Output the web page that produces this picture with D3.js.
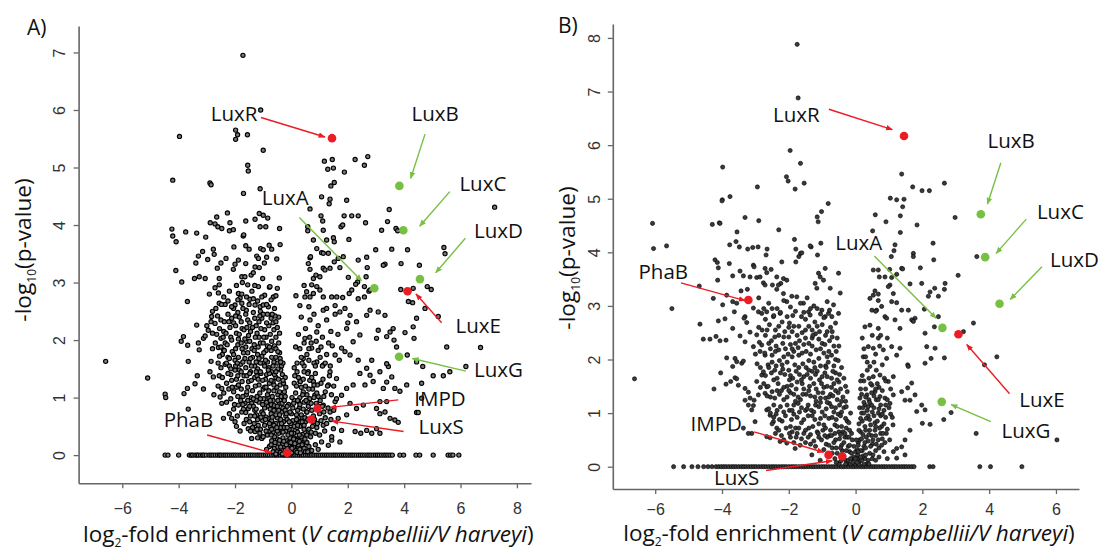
<!DOCTYPE html>
<html>
<head>
<meta charset="utf-8">
<script src="https://cdn.jsdelivr.net/npm/d3@7"></script>
<style>
  body { margin: 0; background: #fff; }
</style>
</head>
<body>
<script>
const width = 1103, height = 552;

// ---- panel A : log2 fold enrichment vs -log10 p ----
const pointsA = [
  [-1.72,6.95],[-1.09,6.0],[-3.97,5.54],[-1.98,5.65],[-1.91,5.57],[-1.56,5.57],[-1.98,5.49],[-1.0,5.30],[-1.55,5.04],[-1.53,4.94],
  [-4.21,4.78],[-2.89,4.73],[-2.85,4.70],[-1.70,4.55],[-1.11,4.63],
  [1.17,5.11],[1.45,5.14],[2.26,5.14],[2.71,5.19],[2.59,5.04],[1.29,4.97],[1.49,4.99],[1.88,4.92],[1.52,4.74],[1.40,4.68],
  [1.07,4.49],[1.37,4.45],[1.34,4.37],[1.96,4.43],[0.66,4.28],[3.47,4.27],[7.21,4.31],
  [-2.27,4.21],[-2.65,4.14],[-1.14,4.20],[-1.0,4.17],[-0.84,4.12],[-2.88,4.04],[-2.71,4.02],[-2.61,3.97],[-2.47,3.94],
  [-2.18,4.04],[-2.20,3.90],[-2.06,3.92],[-1.62,4.07],[-1.29,4.10],[-1.11,3.97],[-0.91,3.97],[-4.24,3.93],[-4.21,3.81],
  [-4.09,3.71],[-3.75,3.88],[-3.36,3.86],[-3.04,3.79],[-1.71,3.81],[-1.69,3.83],[-2.04,3.62],[-1.62,3.64],[-1.50,3.58],
  [-1.09,3.59],[-1.0,3.57],[-0.79,3.65],[-0.70,3.58],[-3.15,3.54],[-3.30,3.46],[-3.39,3.34],[-2.77,3.58],[-2.74,3.49],
  [-2.97,3.40],[-2.32,3.42],[-2.50,3.34],[-2.63,3.25],[-1.88,3.39],[-2.0,3.32],[-2.06,3.23],[-1.62,3.33],[-1.23,3.46],
  [-1.17,3.42],[-0.88,3.44],[-0.96,3.34],[-1.29,3.27],[-1.14,3.26],[-1.43,3.13],[-1.35,3.17],[-4.10,3.21],[-3.44,3.07],
  [-3.27,3.10],[-3.06,3.07],[-2.56,3.07],[-3.89,3.01],[-1.76,3.10],[-1.65,3.10],[-1.74,3.0],[-1.55,2.96],[-1.17,2.93],
  [-1.02,3.07],[-0.78,2.92],[-2.71,2.91],[-2.56,2.96],[-2.59,2.82],[-2.91,2.80],[-1.88,2.81],[-1.76,2.80],[-1.82,2.73],
  [-1.59,2.75],[-1.47,2.71],[-3.69,2.67],[-2.56,2.64],[-2.35,2.62],[-2.0,2.61],[-1.76,2.64],[-1.29,2.61],[-1.11,2.58],
  [-1.0,2.61],[-0.82,2.58],[-0.64,2.75],
  [-0.42,3.94],[1.05,4.16],[1.11,4.07],[1.13,3.91],[0.58,3.97],[1.87,4.16],[2.14,4.16],[2.37,4.16],[2.63,4.04],[1.76,3.97],
  [1.82,4.0],[3.41,4.06],[3.20,3.91],[3.71,3.94],[3.77,3.90],[-0.40,3.66],[-0.52,3.41],[-0.43,3.08],[1.49,3.78],[1.25,3.74],
  [1.52,3.71],[2.04,3.75],[0.58,3.90],[0.90,3.59],[1.07,3.52],[1.13,3.51],[1.31,3.51],[0.78,3.74],[0.66,3.43],[0.68,3.45],
  [2.99,3.57],[3.56,3.58],[4.12,3.57],[5.41,3.61],[5.45,3.50],[2.37,3.39],[2.67,3.44],[3.32,3.32],[3.26,3.30],[3.89,3.33],
  [4.54,3.30],[1.66,3.42],[1.84,3.45],[1.72,3.26],[1.52,3.36],[1.37,3.25],[0.60,3.33],[0.66,3.23],[0.78,3.07],[0.87,3.13],
  [1.01,3.10],[1.13,3.25],[1.19,3.22],[2.02,3.09],[2.35,3.01],[2.65,3.10],[2.69,3.26],[2.59,2.93],[2.75,2.85],[3.88,2.88],
  [4.32,2.90],[4.82,2.93],[4.96,2.88],[-0.76,2.93],[-0.55,2.77],[0.16,2.77],[0.54,2.84],[0.48,2.75],[0.66,2.75],[0.78,2.81],
  [0.90,2.93],[0.72,2.96],[1.01,2.87],[1.13,2.75],[1.43,2.75],[1.61,2.75],[1.82,2.74],[2.05,2.81],[2.14,2.87],[2.28,2.97],
  [2.37,2.72],[2.59,2.75],[2.79,2.87],[4.15,2.67],[4.30,2.65],
  [2.79,2.52],[3.08,2.49],[3.32,2.43],[3.61,2.20],[4.03,2.13],[4.32,2.23],[4.35,2.03],[4.44,2.38],[4.74,2.55],[5.21,2.41],
  [5.51,1.88],[6.71,1.87],[4.11,1.74],[4.44,1.62],[4.66,1.54],[5.03,1.38],[5.39,1.38],[5.62,1.45],[6.19,1.54],[4.09,1.22],
  [4.62,1.25],[4.62,0.99],[4.44,0.74],[4.50,0.74],[2.67,2.43],[3.08,2.17],[3.02,2.03],[3.38,2.06],[3.50,2.14],[3.64,2.0],
  [3.73,1.88],[3.44,1.54],[3.38,1.27],[3.56,1.36],[3.67,1.16],[3.85,1.11],[3.02,0.81],[3.14,0.72],[3.32,0.75],[3.50,0.64],
  [3.67,0.61],[3.79,0.57],[3.38,0.93],[3.14,0.93],[2.26,0.41],[2.46,0.38],[2.67,0.43],[2.85,0.38],[3.02,0.46],[3.14,0.38],
  [1.72,0.23],[1.43,0.26],[1.31,0.17],
  [1.13,2.52],[1.72,2.49],[2.08,2.43],[2.31,2.32],[1.96,2.20],[2.43,2.09],[2.19,1.97],[1.78,1.86],[1.55,1.74],[2.08,1.74],
  [2.37,1.65],[2.67,1.51],[2.85,1.65],[2.79,1.39],[2.43,1.42],[2.19,1.22],[1.96,1.16],[2.61,1.22],[2.90,1.28],[3.26,1.16],
  [3.14,1.45],[3.38,1.59],[1.13,1.57],[1.37,1.45],[1.60,1.33],[1.31,1.22],[1.78,1.04],[1.55,0.93],[2.08,0.90],[2.31,0.81],
  [2.55,0.87],[1.96,0.70],[1.66,0.64],[1.37,0.75],[1.13,0.87],[1.13,0.52],[1.49,0.46],[1.78,0.43],[1.43,0.32],[1.07,0.23],
  [0.66,2.35],[0.90,2.14],[0.48,2.03],[0.72,1.86],[0.42,1.68],[0.90,1.62],[0.60,1.45],[0.30,1.28],[0.78,1.28],[0.42,1.10],
  [0.83,1.04],[0.25,0.93],[0.54,0.75],[0.30,0.58],[0.60,0.41],[0.25,0.29],[0.42,0.14],[0.13,0.12],[-0.05,0.06],
  [-6.59,1.63],[-5.10,1.34],[-4.48,1.06],[-4.46,1.0],[-3.81,1.07],[-3.69,1.16],[-3.42,1.24],[-3.12,1.15],[-3.66,0.80],
  [-3.34,1.38],[-2.89,1.45],[-2.77,1.36],[-2.56,1.38],[-3.66,1.63],[-3.27,1.83],[-2.85,1.63],[-3.91,1.98],[-3.83,2.06],
  [-3.68,1.91],[-3.36,2.26],[-3.30,1.95],[-3.12,2.03],[-3.06,2.07],[-2.95,2.17],[-2.85,2.32],[-2.83,2.41],[-2.80,2.50],
  [-2.71,2.29],[-2.50,2.03],[-2.59,1.87],[-2.41,1.83],[-2.53,1.01],[-2.47,0.90],[-2.41,0.64],[-2.12,0.64],[-2.0,0.58],
  [-2.47,1.16],[-1.88,0.87],[-1.76,0.75],[-1.53,0.81],[-1.41,0.90],[-1.23,0.70],[-1.53,0.46],[-1.29,0.41],[-1.05,0.29],
  [-1.41,0.29],[-0.82,0.64],[-0.88,0.41],
  [-0.6,0.12],[-0.45,0.2],[-0.35,0.08],[-0.25,0.15],[-0.15,0.25],[-0.05,0.1],[0.05,0.2],[0.15,0.08],[0.25,0.18],[0.35,0.28],
  [0.45,0.12],[-0.5,0.28],[-0.3,0.3],[-0.1,0.18],[0.1,0.3],[0.2,0.05],[-0.2,0.05],[-0.4,0.05],[0.3,0.1],[-0.7,0.25],
  [0.55,0.22],[-0.05,0.3],[0.0,0.04],[-0.15,0.12],
  [-1.1,0.45],[-0.95,0.52],[-0.85,0.35],[-0.75,0.5],[-0.65,0.4],[-0.55,0.55],[-0.45,0.38],[-0.38,0.48],[-0.28,0.58],[-0.2,0.42],
  [-0.12,0.35],[0.02,0.45],[0.12,0.55],[0.22,0.4],[0.3,0.5],[0.4,0.36],[0.5,0.58],[0.62,0.45],[0.75,0.5],[0.85,0.38],
  [-0.7,0.6],[-0.4,0.6],[0.05,0.6],[0.35,0.32],[-1.0,0.32],[-0.6,0.32],
  [-1.7,0.8],[-1.55,0.95],[-1.45,0.68],[-1.35,0.85],[-1.2,0.62],[-1.15,0.92],[-1.05,0.75],[-0.98,0.98],[-0.9,0.66],[-0.82,0.85],
  [-0.72,0.72],[-0.65,0.95],[-0.58,0.8],[-0.5,0.65],[-0.42,0.9],[-0.35,0.75],[-0.28,0.98],[-0.2,0.68],[-0.1,0.88],[0.0,0.72],
  [0.1,0.95],[0.18,0.7],[0.28,0.82],[0.38,0.66],[0.45,0.92],[0.55,0.75],[0.65,0.98],[0.78,0.68],[0.88,0.9],[1.0,0.72],
  [1.1,0.85],[1.2,0.65],[-1.3,0.78],[-0.8,1.0],[-0.45,0.78],[0.3,1.0],[-1.6,0.62],[-0.15,0.62],
  [-2.3,1.25],[-2.15,1.4],[-2.05,1.1],[-1.95,1.32],[-1.85,1.48],[-1.78,1.15],[-1.68,1.38],[-1.6,1.05],[-1.52,1.28],[-1.45,1.45],
  [-1.38,1.12],[-1.3,1.35],[-1.22,1.02],[-1.15,1.22],[-1.08,1.42],[-1.0,1.15],[-0.92,1.32],[-0.85,1.05],[-0.78,1.25],[-0.7,1.45],
  [-0.62,1.12],[-0.55,1.35],[-0.48,1.05],[-0.4,1.22],[-0.32,1.4],[-0.25,1.1],[0.15,1.08],[0.25,1.35],[0.35,1.18],[0.45,1.45],
  [0.55,1.05],[0.65,1.3],[0.75,1.15],[0.85,1.42],[0.95,1.02],[1.05,1.25],[1.2,1.1],[1.35,1.38],[1.5,1.2],[-2.0,1.48],
  [-1.2,1.5],[-0.65,1.28],[0.2,1.45],[-1.9,1.02],[-2.6,1.2],[-2.75,1.05],
  [-2.8,1.85],[-2.6,1.6],[-2.45,1.75],[-2.35,1.95],[-2.2,1.55],[-2.1,1.8],[-2.0,1.65],[-1.9,1.92],[-1.8,1.58],[-1.7,1.78],
  [-1.6,1.98],[-1.5,1.62],[-1.4,1.85],[-1.3,1.55],[-1.2,1.75],[-1.1,1.95],[-1.0,1.6],[-0.9,1.82],[-0.8,1.52],[-0.7,1.7],
  [-0.6,1.9],[-0.5,1.6],[-0.42,1.78],[-0.35,1.55],[0.2,1.6],[0.3,1.85],[0.45,1.55],[0.55,1.75],[0.7,1.95],[0.8,1.6],
  [0.95,1.82],[1.1,1.55],[1.25,1.75],[1.45,1.9],[1.7,1.65],[1.9,1.8],[-1.65,1.68],[-1.05,1.72],[-2.25,1.7],[0.35,1.7],
  [-3.0,2.25],[-2.65,2.1],[-2.5,2.35],[-2.4,2.15],[-2.25,2.45],[-2.15,2.05],[-2.05,2.3],[-1.95,2.12],[-1.85,2.4],[-1.75,2.2],
  [-1.65,2.02],[-1.55,2.35],[-1.45,2.15],[-1.35,2.48],[-1.25,2.25],[-1.15,2.05],[-1.05,2.38],[-0.95,2.18],[-0.85,2.45],[-0.75,2.1],
  [-0.65,2.3],[-0.55,2.05],[-0.45,2.4],[0.25,2.1],[0.35,2.4],[0.5,2.2],[0.65,2.05],[0.8,2.45],[0.95,2.25],[1.1,2.05],
  [1.25,2.35],[1.4,2.15],[1.55,2.45],[1.65,2.1],[2.0,2.3],[-1.9,2.48],[-1.1,2.5],
  [-2.2,2.85],[-2.05,2.55],[-1.95,2.95],[-1.4,2.85],[-1.3,2.95],[-0.95,2.78],[-0.6,2.55],[-0.5,2.9],[0.3,2.6],[0.45,2.95],
  [1.25,2.55],[1.55,2.6],[1.9,2.55],[-2.4,2.75],[-1.6,2.52],[0.62,2.58],
  [-1.95,0.5],[-1.82,0.42],[-1.68,0.55],[-1.48,0.58],[-1.38,0.48],[-1.18,0.52],[-1.02,0.6],[-0.78,0.42],[-0.62,0.52],
  [-2.2,0.72],[-2.05,0.8],[-1.92,0.68],[-1.62,0.74],[-1.25,0.8],[-1.08,0.66],[-0.95,0.82],[-0.75,0.8],[-0.55,0.7],[-0.38,0.62],
  [-0.3,0.82],[-0.22,0.78],
  [-2.3,0.92],[-2.15,0.98],[-2.02,0.88],[-1.8,0.95],[-1.65,0.9],[-1.48,0.85],[-1.25,0.95],[-1.1,0.98],[-0.88,0.92],[-0.72,0.88],
  [-0.6,0.86],[-0.48,0.95],[-0.33,0.9],[-0.25,0.95],
  [-2.4,1.08],[-2.22,1.15],[-1.95,1.18],[-1.72,1.02],[-1.55,1.18],[-1.42,1.0],[-1.28,1.2],[-1.12,1.08],[-0.95,1.18],[-0.8,1.12],
  [-0.68,1.02],[-0.52,1.18],[-0.36,1.02],[-0.28,1.25],[-0.2,1.18],
  [-2.45,1.35],[-2.25,1.42],[-2.12,1.3],[-1.9,1.38],[-1.75,1.28],[-1.58,1.38],[-1.42,1.3],[-1.22,1.38],[-1.02,1.3],[-0.88,1.4],
  [-0.72,1.3],[-0.6,1.4],[-0.46,1.32],[-0.38,1.48],[-0.22,1.35],
  [-2.5,1.52],[-2.35,1.58],[-2.15,1.5],[-1.98,1.55],[-1.78,1.45],[-1.62,1.52],[-1.42,1.55],[-1.25,1.45],[-1.1,1.6],[-0.95,1.55],
  [-0.78,1.42],[-0.62,1.62],[-0.48,1.5],[-0.3,1.6],
  [-2.55,1.72],[-2.38,1.82],[-2.2,1.68],[-2.05,1.75],[-1.88,1.7],[-1.72,1.62],[-1.55,1.78],[-1.38,1.7],[-1.25,1.62],[-1.15,1.68],
  [-0.98,1.78],[-0.85,1.62],[-0.72,1.82],[-0.55,1.7],[-0.4,1.68],
  [-2.7,1.95],[-2.5,1.88],[-2.28,1.92],[-2.12,2.0],[-1.98,1.85],[-1.78,1.95],[-1.62,1.88],[-1.48,1.98],[-1.32,1.92],[-1.18,1.88],
  [-1.0,1.95],[-0.85,1.9],[-0.7,1.98],[-0.55,1.85],[-0.45,1.95],
  [-2.8,2.12],[-2.55,2.2],[-2.32,2.12],[-2.18,2.22],[-1.98,2.25],[-1.85,2.1],[-1.68,2.18],[-1.52,2.08],[-1.38,2.22],[-1.22,2.12],
  [-1.08,2.2],[-0.9,2.05],[-0.8,2.25],[-0.62,2.18],[-0.5,2.22],
  [-2.62,2.42],[-2.38,2.32],[-2.12,2.38],[-1.98,2.42],[-1.78,2.32],[-1.62,2.45],[-1.48,2.3],[-1.3,2.38],[-1.15,2.32],[-1.0,2.45],
  [-0.88,2.3],[-0.72,2.38],[-0.58,2.42],
  [-2.68,2.55],[-2.48,2.62],[-2.25,2.68],[-2.12,2.58],[-1.9,2.7],[-1.72,2.55],[-1.5,2.62],[-1.35,2.72],[-1.2,2.68],[-1.05,2.75],
  [-0.88,2.62],[-0.72,2.7],
  [-0.52,0.06],[-0.3,0.2],[-0.08,0.22],[0.08,0.14],[0.18,0.22],[0.32,0.04],[0.4,0.2],[0.5,0.06],[0.62,0.15],[0.72,0.08],
  [0.85,0.18],[-0.65,0.06],[-0.78,0.15],[0.95,0.1],
  [-0.9,0.42],[-0.7,0.45],[-0.5,0.42],[-0.32,0.4],[-0.08,0.45],[0.08,0.38],[0.2,0.48],[0.45,0.45],[0.55,0.35],[0.7,0.4],
  [0.9,0.48],[1.0,0.35],[1.18,0.42],[-1.2,0.3],
  [-0.02,0.55],[0.2,0.62],[0.38,0.58],[0.48,0.65],[0.82,0.62],[0.92,0.55],[1.05,0.6],[1.25,0.55],[1.4,0.62],
  [0.05,0.82],[0.22,0.78],[0.42,0.8],[0.6,0.85],[0.72,0.78],[0.95,0.85],[1.15,0.75],[1.3,0.82],[1.5,0.78],
  [0.02,1.0],[0.22,0.95],[0.4,1.05],[0.6,0.92],[0.8,1.0],[1.02,0.95],[1.15,1.02],[1.42,1.05],[1.6,0.98],
  [0.1,1.25],[0.32,1.28],[0.5,1.2],[0.72,1.35],[0.92,1.22],[1.12,1.32],[1.28,1.2],
  [0.1,1.52],[0.38,1.6],[0.62,1.65],[0.85,1.55],[1.02,1.7],[1.2,1.6],[1.38,1.55],
  [0.15,1.88],[0.45,1.95],[0.62,1.85],[0.88,1.98],[1.05,1.88],[1.32,1.95],
  [-0.88,0.1],[-0.72,0.18],[-0.58,0.22],[-0.48,0.14],[-0.42,0.26],[-0.32,0.02],[-0.27,0.24],[-0.12,0.02],[-0.02,0.22],[0.08,0.28],
  [0.22,0.26],[0.38,0.18],[0.48,0.28],[0.58,0.06],[-0.55,0.02],[-0.18,0.18],[0.12,0.2],[0.28,0.24],[-0.38,0.14],[0.02,0.12],
  [-1.45,0.42],[-1.32,0.55],[-1.12,0.38],[-0.92,0.62],[-0.78,0.55],[-0.68,0.66],[-0.52,0.48],[-0.42,0.7],[-0.35,0.55],[-0.25,0.48],
  [-0.18,0.72],[-0.08,0.58],[0.0,0.38],[0.1,0.5],[0.18,0.62],[0.28,0.35],[0.35,0.7],[0.45,0.52],[0.58,0.62],[0.68,0.32],
  [0.78,0.58],[-1.0,0.72],[-1.3,0.68],[-0.62,0.78],[-0.05,0.75],[0.22,0.52],[-0.3,0.4],[-0.72,0.35],[-1.22,0.45],[-0.15,0.48],
  [-1.88,1.22],[-1.72,0.88],[-1.58,1.1],[-1.35,0.98],[-1.18,1.32],[-1.02,0.88],[-0.9,1.18],[-0.75,0.95],[-0.62,1.22],[-0.5,0.85],
  [-0.42,1.1],[-0.3,1.3],[-0.22,1.02],[-0.15,0.85],[0.08,0.9],[0.18,1.2],[0.3,0.88],[0.42,1.32],[0.52,0.95],[0.62,1.15],
  [0.7,0.9],[0.8,1.22],[0.9,1.08],[-1.48,1.42],[-0.82,1.48],[-0.55,1.45],[0.12,1.38],[0.58,1.42],[-1.1,1.45],[-2.1,1.18],
  [-2.3,1.6],[-1.92,1.6],[-1.75,1.85],[-1.45,1.68],[-1.32,1.82],[-0.92,1.65],[-0.78,1.88],[-0.65,1.55],[-0.48,1.8],[-0.38,1.62],
  [-2.42,2.05],[-2.22,2.32],[-1.88,2.02],[-1.58,2.22],[-1.28,2.05],[-1.12,2.42],[-0.98,2.05],[-0.68,2.45],[-0.55,2.32],[-0.42,2.12]
];
// proteins with p = 1 (sit on the zero line)
const zeroA = [
  -4.48,-4.38,-4.0,-3.62,-3.55,-3.5,-3.42,-3.35,-3.3,-3.22,-3.15,-3.1,-3.02,-2.92,-2.85,-2.78,-2.7,-2.62,-2.55,-2.5,
  -2.42,-2.35,-2.28,-2.2,-2.12,-2.05,-1.98,-1.9,-1.82,-1.75,-1.68,-1.6,-1.52,-1.45,-1.38,-1.3,-1.22,-1.15,-1.08,-1.0,
  -0.92,-0.85,-0.78,-0.7,-0.62,-0.55,-0.48,-0.4,-0.32,-0.25,-0.18,-0.1,-0.02,0.05,0.12,0.2,0.28,0.35,0.42,0.5,
  0.58,0.65,0.72,0.8,0.88,0.95,1.02,1.1,1.18,1.25,1.32,1.4,1.48,1.55,1.62,1.7,1.78,1.85,1.92,2.0,
  2.08,2.15,2.22,2.3,2.38,2.45,2.52,2.6,2.68,2.75,2.82,2.9,2.98,3.05,3.12,3.2,3.28,3.35,3.42,3.5,
  3.58,3.85,3.98,4.42,4.55,5.03,5.56,5.65,5.73,5.94
];
const genesA = [
  { name: 'LuxR', x: 1.44, y: 5.51, kind: 'other' },
  { name: 'LuxB', x: 3.83, y: 4.68, kind: 'operon' },
  { name: 'LuxC', x: 3.97, y: 3.91, kind: 'operon' },
  { name: 'LuxD', x: 4.56, y: 3.06, kind: 'operon' },
  { name: 'LuxA', x: 2.94, y: 2.90, kind: 'operon' },
  { name: 'LuxE', x: 4.12, y: 2.85, kind: 'other' },
  { name: 'LuxG', x: 3.82, y: 1.71, kind: 'operon' },
  { name: 'IMPD', x: 0.92, y: 0.81, kind: 'other' },
  { name: 'LuxS', x: 0.70, y: 0.62, kind: 'other' },
  { name: 'PhaB', x: -0.15, y: 0.04, kind: 'other' }
];

// ---- panel B ----
const pointsB = [
  [-1.75,7.88],[-1.72,6.88],[-1.96,5.90],[-1.65,5.66],[-2.07,5.41],[-2.02,5.33],[-1.54,5.29],[-1.81,5.18],[-3.98,5.59],[-3.76,5.04],
  [-3.99,4.98],[-2.94,5.22],[-3.31,4.65],[-2.90,4.59],[-4.29,4.52],[-4.08,4.55],[-3.55,4.38],[-6.08,4.54],[-6.05,4.07],[-5.66,4.12],
  [-2.30,4.42],[-0.82,4.91],[-1.02,4.76],[-1.15,4.66],[-1.12,4.57],[-1.83,4.24],[-1.79,4.06],[-1.70,3.92],[-1.65,3.98],[-1.33,4.10],
  [-1.04,4.17],[-3.77,4.14],[-3.48,4.10],[-3.23,4.06],[-3.08,4.09],[-2.92,4.10],[-2.65,4.06],[-2.68,3.95],[-1.14,3.95],[-3.58,4.20],
  [-1.61,3.99],[-1.79,3.82],[-2.21,3.82],[-1.36,4.12],
  [1.38,5.46],[1.71,5.22],[1.99,5.15],[2.21,5.15],[2.66,5.29],[1.04,5.01],[1.23,4.98],[1.45,4.99],[1.41,4.85],[0.59,4.70],
  [0.91,4.57],[1.34,4.68],[1.84,4.51],[2.98,4.65],[0.51,4.40],[1.34,4.37],[2.32,4.17],[2.34,3.86],[1.94,3.71],[1.73,3.98],
  [1.73,3.92],[1.07,3.92],[1.15,4.03],[1.02,3.68],[1.38,3.70],[3.07,3.57],[3.63,3.92],[1.18,4.14],
  [1.41,3.69],[1.23,3.59],[1.08,3.53],[0.88,3.54],[0.71,3.54],[0.53,3.67],[0.68,3.67],[1.98,3.42],[1.63,3.41],[2.23,3.26],
  [2.18,3.18],[2.66,3.31],[2.48,3.18],[1.03,3.39],[1.13,3.23],[0.98,3.36],[0.68,3.22],[0.58,3.28],[0.53,3.20],[0.43,3.14],
  [0.68,3.10],[0.49,2.92],[0.63,2.92],[0.78,2.99],[0.88,2.80],[1.08,3.08],[1.23,3.06],[1.38,2.92],[1.58,2.92],[1.78,2.77],
  [2.06,2.94],[2.48,2.80],[-0.91,3.70],[-0.76,3.33],[-0.51,3.61],[-0.46,3.24],[-0.66,3.02],[-0.81,2.86],[-0.51,2.86],[-0.71,2.80],
  [-5.50,2.95],[-4.68,3.37],[-4.06,4.54],[-4.0,4.96],
  [-4.21,3.86],[-4.14,3.81],[-4.11,3.71],[-3.78,3.79],[-3.68,3.56],[-3.46,3.65],[-3.36,3.56],[-3.06,3.76],[-3.04,3.73],[-2.71,3.70],
  [-2.66,3.62],[-2.53,3.68],[-2.36,3.54],[-2.24,3.42],[-2.16,3.51],[-2.31,3.39],[-2.06,3.48],[-4.13,3.48],[-4.26,3.14],[-3.98,3.02],
  [-3.86,3.20],[-3.68,3.08],[-3.56,3.05],[-3.43,3.28],[-3.24,3.31],[-3.16,3.54],[-2.96,3.53],[-2.86,3.54],[-2.76,3.43],[-2.71,3.39],
  [-2.49,3.39],[-2.36,3.31],[-2.16,3.23],[-3.63,2.89],[-3.31,2.80],[-3.06,2.96],[-2.91,2.89],[-2.81,2.86],[-2.66,2.89],[-2.46,2.80],
  [-2.26,2.86],[-2.06,3.08],[-1.91,3.18],[-1.76,3.17],[-1.56,3.05],[-1.41,2.89],[-1.21,3.42],[-1.16,3.33],[-1.11,3.61],[-1.06,3.54],
  [-0.96,3.48],[-1.01,2.92],[-0.91,2.80],[-1.36,2.83],
  [-6.62,1.64],[-4.66,2.66],[-4.56,2.38],[-4.36,2.38],[-4.18,2.43],[-4.06,2.35],[-3.88,2.36],[-4.11,2.72],[-3.91,2.76],[-3.68,2.58],
  [-3.46,2.44],[-3.31,2.33],[-3.34,2.77],[-3.26,2.69],[-4.24,1.45],[-4.04,1.75],[-3.86,2.03],[-3.61,2.02],[-3.56,1.96],[-3.41,1.93],
  [-3.36,1.97],[-3.88,1.54],[-3.74,1.59],[-3.61,1.66],[-3.51,1.52],[-3.56,1.64],[-3.68,1.87],[-3.31,1.46],[-3.21,1.39],[-3.16,1.28],
  [-3.31,1.24],[-3.21,1.15],[-3.06,1.14],[-3.04,1.24],[-3.11,1.06],[-3.36,0.72],[-3.01,0.84],[-3.11,0.62],[-3.21,0.62],[-3.06,2.24],
  [-3.16,2.51],[-2.96,2.46],[-2.81,2.27],[-2.86,2.15],[-2.71,2.08],[-2.96,1.59],[-2.81,1.71],[-2.76,1.77],[-2.66,1.49],[-2.71,1.37],
  [-2.91,1.34],[-2.66,1.06],[-2.56,0.96],[-2.46,0.84],[-2.36,0.72],[-2.66,0.56],[-2.56,0.54],[-2.26,0.47],[-2.06,0.44],[-1.81,0.34],
  [-1.66,0.40],[-1.06,0.12],[-1.31,0.22],
  [3.53,2.68],[3.23,2.52],[4.23,2.05],[3.86,1.90],[2.36,2.61],[2.08,2.49],[2.13,2.24],[2.38,2.21],[2.66,2.03],[2.26,2.02],
  [2.08,1.93],[1.56,1.90],[1.78,1.34],[1.63,1.24],[1.98,1.15],[2.08,1.06],[1.83,1.03],[2.0,0.81],[2.23,0.79],[2.86,1.01],
  [2.64,0.88],[3.61,0.62],[1.56,1.47],[1.68,1.56],[1.38,1.40],[1.48,1.24],[1.63,0.68],[1.48,0.50],[1.38,0.37],[1.23,0.34],
  [1.48,0.22],[1.23,0.16],[1.13,0.28],[0.28,2.61],[0.43,2.64],[0.68,2.58],[0.93,2.77],[1.18,2.74],[1.33,2.58],[1.68,2.74],
  [1.73,2.71],[0.68,2.40],[0.83,2.18],[0.93,2.02],[1.23,2.08],[1.08,2.24],[1.33,2.21],[1.58,1.87],[0.38,2.24],[0.53,2.21],
  [0.23,2.05],[0.43,1.87],[0.53,1.68],[0.73,1.71],[0.86,1.65],[0.98,1.59],[1.13,1.68],[0.49,1.52],[0.58,1.40],[0.73,1.31],
  [0.88,1.28],[1.03,1.18],[1.13,1.34],[0.34,1.34],[0.28,1.15],[0.38,1.12],[0.13,1.28],[6.03,0.50],[2.37,3.33],[2.68,3.42],
  [-0.55,0.25],[-0.45,0.1],[-0.35,0.2],[-0.25,0.06],[-0.18,0.28],[-0.1,0.15],[-0.02,0.05],[0.06,0.22],[0.12,0.1],[0.2,0.3],
  [0.28,0.15],[0.35,0.06],[-0.3,0.12],[-0.15,0.05],[0.0,0.28],[-0.62,0.15],[0.42,0.25],[0.1,0.04],[-0.05,0.18],[0.18,0.12],
  [0.25,0.05],[-0.4,0.3],
  [-1.5,0.45],[-1.35,0.6],[-1.2,0.38],[-1.1,0.55],[-0.98,0.68],[-0.88,0.42],[-0.78,0.58],[-0.7,0.35],[-0.6,0.5],[-0.5,0.65],
  [-0.42,0.4],[-0.32,0.55],[-0.22,0.38],[-0.12,0.62],[0.08,0.45],[0.15,0.65],[0.25,0.38],[0.32,0.55],[0.42,0.68],[0.5,0.42],
  [0.6,0.58],[0.7,0.35],[0.8,0.52],[0.92,0.62],[-1.75,0.62],[-1.95,0.55],[-0.95,0.32],[0.05,0.32],
  [-2.35,1.05],[-2.2,0.85],[-2.05,1.15],[-1.95,0.75],[-1.85,0.98],[-1.72,1.18],[-1.62,0.82],[-1.5,1.05],[-1.4,0.72],[-1.3,0.95],
  [-1.2,1.15],[-1.1,0.8],[-1.0,1.02],[-0.9,0.72],[-0.8,0.9],[-0.72,1.12],[-0.62,0.78],[-0.52,0.98],[-0.42,0.75],[-0.35,1.1],
  [-0.25,0.85],[0.1,0.8],[0.18,1.0],[0.28,0.75],[0.38,0.95],[0.48,1.15],[0.58,0.82],[0.68,1.0],[0.78,0.75],[0.9,0.92],
  [1.0,1.1],[1.12,0.78],[-1.8,0.72],[-0.15,1.0],[-2.5,0.8],
  [-2.75,1.55],[-2.55,1.3],[-2.45,1.62],[-2.35,1.42],[-2.25,1.75],[-2.15,1.25],[-2.05,1.5],[-1.95,1.7],[-1.85,1.35],[-1.75,1.58],
  [-1.65,1.25],[-1.55,1.45],[-1.45,1.72],[-1.35,1.32],[-1.25,1.55],[-1.15,1.78],[-1.05,1.28],[-0.95,1.48],[-0.85,1.68],[-0.75,1.35],
  [-0.65,1.55],[-0.55,1.25],[-0.45,1.45],[-0.35,1.65],[0.15,1.45],[0.25,1.6],[0.4,1.25],[0.65,1.55],[0.8,1.42],[-2.0,1.8],
  [-1.3,1.78],[-0.6,1.75],
  [-3.0,2.1],[-2.85,1.85],[-2.6,2.3],[-2.5,1.95],[-2.4,2.15],[-2.3,2.45],[-2.2,1.9],[-2.1,2.2],[-2.0,2.42],[-1.9,2.05],
  [-1.8,2.3],[-1.7,1.85],[-1.6,2.12],[-1.5,2.4],[-1.4,1.98],[-1.3,2.25],[-1.2,2.48],[-1.1,2.02],[-1.0,2.3],[-0.9,1.88],
  [-0.8,2.15],[-0.7,2.42],[-0.6,2.0],[-0.5,2.25],[0.2,2.4],[0.35,1.95],[0.6,2.1],[0.75,2.45],[-2.7,2.45],
  [-2.9,2.6],[-2.7,2.75],[-2.4,2.55],[-2.2,2.7],[-2.0,2.6],[-1.8,2.9],[-1.7,2.62],[-1.5,2.75],[-1.3,2.55],[-1.15,2.95],
  [-1.0,2.65],[-0.85,2.52],[-0.6,2.68],[-2.5,2.95],[-1.9,2.52],[0.6,2.9],
  [-2.15,0.5],[-1.85,0.45],[-1.62,0.52],[-1.42,0.55],[-1.25,0.48],[-1.02,0.5],[-0.85,0.55],[-0.65,0.45],[-0.48,0.52],[-0.35,0.45],
  [-0.25,0.55],
  [-2.3,0.68],[-2.08,0.72],[-1.9,0.65],[-1.7,0.72],[-1.5,0.68],[-1.28,0.75],[-1.15,0.65],[-0.95,0.78],[-0.75,0.68],[-0.55,0.75],
  [-0.38,0.65],[-0.28,0.72],[-0.18,0.68],
  [-2.45,0.92],[-2.28,0.88],[-2.1,0.95],[-1.92,0.88],[-1.75,0.92],[-1.55,0.88],[-1.42,0.95],[-1.22,0.88],[-1.05,0.9],[-0.92,0.95],
  [-0.7,0.92],[-0.58,0.88],[-0.45,0.95],[-0.3,0.9],[-0.2,0.82],
  [-2.6,1.08],[-2.45,1.15],[-2.25,1.12],[-1.98,1.05],[-1.85,1.15],[-1.62,1.1],[-1.42,1.15],[-1.32,1.05],[-1.1,1.12],[-0.88,1.08],
  [-0.78,1.18],[-0.6,1.1],[-0.48,1.15],[-0.28,1.12],
  [-2.65,1.32],[-2.42,1.28],[-2.28,1.35],[-2.05,1.3],[-1.95,1.38],[-1.72,1.3],[-1.48,1.35],[-1.22,1.3],[-1.12,1.38],[-0.9,1.28],
  [-0.68,1.32],[-0.52,1.38],[-0.38,1.3],[-0.25,1.4],
  [-2.85,1.48],[-2.62,1.5],[-2.32,1.55],[-2.15,1.48],[-1.92,1.52],[-1.78,1.45],[-1.6,1.55],[-1.38,1.5],[-1.18,1.45],[-1.02,1.55],
  [-0.85,1.5],[-0.72,1.48],[-0.5,1.58],[-0.3,1.5],
  [-2.7,1.7],[-2.52,1.75],[-2.35,1.65],[-2.12,1.72],[-1.88,1.65],[-1.68,1.72],[-1.55,1.68],[-1.35,1.65],[-1.2,1.72],[-1.0,1.68],
  [-0.92,1.75],[-0.72,1.65],[-0.48,1.72],[-0.42,1.85],
  [-2.95,1.92],[-2.62,1.9],[-2.38,1.88],[-2.28,1.98],[-2.05,1.95],[-1.82,1.9],[-1.58,1.92],[-1.48,1.85],[-1.25,1.95],[-1.05,1.88],
  [-0.82,1.95],[-0.65,1.88],[-0.52,1.98],
  [-2.72,2.12],[-2.5,2.08],[-2.3,2.18],[-2.02,2.1],[-1.85,2.15],[-1.7,2.08],[-1.48,2.15],[-1.35,2.1],[-1.18,2.18],[-0.95,2.12],
  [-0.72,2.08],[-0.58,2.15],
  [-2.88,2.32],[-2.52,2.35],[-2.18,2.3],[-1.95,2.28],[-1.68,2.35],[-1.4,2.3],[-1.1,2.38],[-0.92,2.28],[-0.78,2.35],[-0.55,2.4],
  [-2.8,2.55],[-2.58,2.65],[-2.3,2.62],[-2.12,2.52],[-1.85,2.62],[-1.6,2.5],[-1.4,2.62],[-1.22,2.7],[-1.08,2.52],[-0.95,2.78],
  [-0.75,2.6],[-2.05,2.8],[-1.62,2.8],
  [-2.6,3.05],[-2.35,2.95],[-2.15,3.1],[-1.95,2.98],[-1.65,3.05],[-1.45,3.15],[-1.25,3.0],[-0.85,3.08],[-2.9,3.15],
  [0.05,0.15],[0.15,0.3],[0.22,0.2],[0.3,0.35],[0.38,0.12],[0.45,0.38],[0.52,0.22],[0.6,0.3],[0.7,0.18],[0.78,0.4],
  [0.85,0.28],[0.95,0.15],[0.12,0.5],[0.22,0.6],[0.38,0.48],[0.48,0.58],[0.58,0.68],[0.68,0.5],[0.75,0.62],[0.88,0.45],
  [1.02,0.5],[0.1,0.68],[0.2,0.85],[0.32,0.9],[0.45,0.78],[0.55,0.95],[0.65,0.85],[0.75,0.95],[0.85,0.8],[0.95,0.7],
  [1.1,0.92],[0.12,1.1],[0.25,1.2],[0.35,1.05],[0.55,1.1],[0.62,1.25],[0.75,1.15],[0.85,1.05],[0.95,1.25],[1.05,0.98],
  [0.18,1.35],[0.3,1.45],[0.48,1.38],[0.7,1.48],[0.9,1.6],[1.05,1.45],[0.2,1.7],[0.4,1.65],[0.62,1.8],[0.8,1.9],
  [0.25,2.2],[0.5,2.45],[0.72,2.25],[0.95,2.4],
  [-0.5,0.05],[-0.38,0.15],[-0.22,0.12],[-0.12,0.25],[-0.08,0.08],[0.0,0.15],[0.05,0.08],[-0.28,0.3],[-0.45,0.35],[-0.18,0.4],
  [-0.05,0.38],[0.02,0.5],[-0.1,0.5],[-0.2,0.55],[-0.32,0.62],
  [-2.4,0.62],[-2.22,0.58],[-1.98,0.62],[-1.78,0.55],[-1.55,0.62],[-1.35,0.42],[-1.12,0.62],[-0.92,0.58],[-0.72,0.58],[-0.62,0.62],
  [-0.45,0.6],
  [-2.55,1.0],[-2.38,0.98],[-2.15,1.02],[-1.9,1.05],[-1.68,1.02],[-1.45,1.08],[-1.25,1.02],[-1.05,1.2],[-0.85,1.2],[-0.65,1.02],
  [-0.42,1.02],[-0.3,1.22],
  [-2.5,1.4],[-2.22,1.42],[-2.0,1.42],[-1.8,1.22],[-1.58,1.35],[-1.4,1.42],[-1.18,1.22],[-0.98,1.38],[-0.8,1.3],[-0.6,1.42],
  [-0.42,1.22],
  [-2.6,1.85],[-2.42,1.8],[-2.18,1.82],[-1.98,1.62],[-1.78,1.78],[-1.62,1.62],[-1.4,1.8],[-1.22,1.85],[-1.08,1.62],[-0.88,1.85],
  [-0.68,1.78],[-0.55,1.62],
  [-2.55,2.2],[-2.38,2.25],[-2.15,2.05],[-1.9,2.2],[-1.72,2.22],[-1.55,2.28],[-1.3,2.4],[-1.05,2.2],[-0.85,2.05],[-0.65,2.25],
  [-2.65,2.55],[-2.42,2.42],[-2.15,2.42],[-1.98,2.68],[-1.75,2.45],[-1.5,2.55],[-1.28,2.45],[-1.15,2.62],[-0.9,2.45],[-0.7,2.52],
  [-2.75,2.95],[-2.45,2.82],[-2.25,2.88],[-1.88,2.82],[-1.55,2.88],[-1.35,2.95],[-1.05,2.85],[-0.78,2.92],
  [0.08,0.4],[0.18,0.52],[0.28,0.45],[0.4,0.6],[0.52,0.5],[0.62,0.42],[0.72,0.72],[0.82,0.62],[0.3,0.68],[0.15,0.9],
  [0.25,1.0],[0.42,0.88],[0.5,1.02],[0.6,0.75],[0.7,1.08],[0.8,0.98],[0.9,1.15],[0.22,1.1],[0.42,1.2],[0.55,1.32],
  [0.68,1.25],[0.3,1.3],[0.45,1.55],[0.6,1.45],[0.15,1.6],[0.35,1.8],[0.55,1.95],[0.3,2.05],
  [-0.58,0.08],[-0.42,0.22],[-0.3,0.05],[-0.15,0.15],[0.08,0.28],[0.15,0.18],[0.3,0.22],[0.4,0.05],[0.5,0.15],[0.6,0.12],
  [-0.7,0.25],[-0.8,0.4],[-0.58,0.35]
];
const zeroB = [
  -5.45,-5.15,-4.9,-4.72,-4.55,-4.42,-4.3,-4.18,-4.1,-4.02,-3.95,-3.88,-3.8,-3.72,-3.65,-3.58,-3.5,-3.42,-3.35,-3.28,
  -3.2,-3.12,-3.05,-2.98,-2.9,-2.82,-2.75,-2.68,-2.6,-2.52,-2.45,-2.38,-2.3,-2.22,-2.15,-2.08,-2.0,-1.92,-1.85,-1.78,
  -1.7,-1.62,-1.55,-1.48,-1.4,-1.32,-1.25,-1.18,-1.1,-1.02,-0.95,-0.88,-0.8,-0.72,-0.65,-0.58,-0.5,-0.42,-0.35,-0.28,
  -0.2,-0.12,-0.05,0.02,0.1,0.18,0.25,0.32,0.4,0.48,0.55,0.62,0.7,0.78,0.85,0.92,1.0,1.08,1.15,1.22,
  1.3,1.38,1.45,1.52,1.6,1.68,1.75,2.22,2.32,3.72,4.04,4.98
];
const genesB = [
  { name: 'LuxR', x: 1.45, y: 6.17, kind: 'other' },
  { name: 'LuxB', x: 3.75, y: 4.71, kind: 'operon' },
  { name: 'LuxC', x: 3.88, y: 3.91, kind: 'operon' },
  { name: 'LuxD', x: 4.31, y: 3.04, kind: 'operon' },
  { name: 'LuxA', x: 2.60, y: 2.59, kind: 'operon' },
  { name: 'LuxE', x: 3.08, y: 2.47, kind: 'other' },
  { name: 'LuxG', x: 2.58, y: 1.21, kind: 'operon' },
  { name: 'PhaB', x: -3.21, y: 3.11, kind: 'other' },
  { name: 'IMPD', x: -0.81, y: 0.22, kind: 'other' },
  { name: 'LuxS', x: -0.40, y: 0.19, kind: 'other' }
];

const xTicksA = [-6, -4, -2, 0, 2, 4, 6, 8];
const yTicksA = [0, 1, 2, 3, 4, 5, 6, 7];
const xTicksB = [-6, -4, -2, 0, 2, 4, 6];
const yTicksB = [0, 1, 2, 3, 4, 5, 6, 7, 8];

// label placement, in data units: text start, arrow start, arrow tip
const labelsA = {
  LuxR: [-2.86, 5.81, -1.08, 5.87, 1.19, 5.53],
  LuxB: [4.26, 5.80, 4.74, 5.58, 4.23, 4.81],
  LuxC: [5.96, 4.60, 5.62, 4.58, 4.55, 3.98],
  LuxD: [6.48, 3.77, 6.17, 3.77, 5.12, 3.17],
  LuxA: [-1.05, 4.34, 0.28, 4.13, 2.49, 3.03],
  LuxE: [5.82, 2.13, 5.33, 2.30, 4.42, 2.80],
  LuxG: [6.48, 1.36, 6.19, 1.46, 4.29, 1.68],
  IMPD: [4.36, 0.85, 3.79, 0.96, 1.38, 0.83],
  LuxS: [4.51, 0.36, 3.98, 0.41, 1.44, 0.59],
  PhaB: [-4.53, 0.49, -2.99, 0.35, -0.71, 0.04]
};
const labelsB = {
  LuxR: [-2.47, 6.44, -0.80, 6.67, 1.10, 6.29],
  LuxB: [3.95, 5.94, 4.35, 5.67, 3.95, 4.90],
  LuxC: [5.43, 4.63, 5.11, 4.62, 4.21, 3.98],
  LuxD: [5.82, 3.73, 5.58, 3.73, 4.63, 3.12],
  LuxA: [-0.61, 4.04, 0.56, 3.93, 2.41, 2.77],
  PhaB: [-6.50, 3.51, -5.23, 3.43, -3.31, 3.10],
  LuxE: [4.90, 1.11, 4.61, 1.36, 3.33, 2.28],
  LuxG: [4.37, 0.53, 4.05, 0.84, 2.86, 1.16],
  IMPD: [-4.94, 0.67, -3.04, 0.65, -0.96, 0.27],
  LuxS: [-4.24, -0.34, -2.68, -0.07, -0.70, 0.11]
};

const colour = { other: '#ec1c24', operon: '#77c043' };
const axisColour = '#666';
const tickFont = '"Liberation Sans", Arial, sans-serif';
const titleFont = '"Open Sans", "Noto Sans", sans-serif';

const svg = d3.select('body').append('svg')
  .attr('width', width)
  .attr('height', height)
  .style('background', '#fff');

let defs = svg.append('defs');
Object.entries(colour).forEach(([k, c]) => {
  defs.append('marker')
    .attr('id', 'arr-' + k)
    .attr('viewBox', '0 0 10 10')
    .attr('refX', 9).attr('refY', 5)
    .attr('markerWidth', 7).attr('markerHeight', 7)
    .attr('markerUnits', 'userSpaceOnUse')
    .attr('orient', 'auto')
    .append('path')
    .attr('d', 'M0,1 L10,5 L0,9 z')
    .attr('fill', c);
});

function fitWidth(sel, target) {
  let w = sel.node().getComputedTextLength();
  let fs = parseFloat(sel.attr('font-size'));
  sel.attr('font-size', fs * target / w);
}

function drawPanel(p) {
  let x = d3.scaleLinear().domain(p.xDomain).range([p.left, p.right]);
  let y = d3.scaleLinear().domain(p.yDomain).range([p.bottom, p.top]);
  let g = svg.append('g');

  // x axis
  let xa = g.append('g')
    .attr('transform', `translate(0,${p.bottom})`)
    .call(d3.axisBottom(x).tickValues(p.xTicks).tickSize(5).tickSizeOuter(0));
  xa.selectAll('text')
    .attr('y', p.xLabelGap).attr('dy', 0)
    .attr('font-family', tickFont).attr('font-size', 16).attr('fill', '#333');

  // y axis, labels turned parallel to the axis
  let ya = g.append('g')
    .attr('transform', `translate(${p.left},0)`)
    .call(d3.axisLeft(y).tickValues(p.yTicks).tickSize(5).tickSizeOuter(0));
  ya.selectAll('text')
    .attr('x', 0).attr('dy', 0).attr('y', -p.yLabelGap)
    .attr('text-anchor', 'middle')
    .attr('transform', 'rotate(-90)')
    .attr('font-family', tickFont).attr('font-size', 16).attr('fill', '#333');

  [xa, ya].forEach(a => {
    a.select('.domain').attr('stroke', axisColour).attr('stroke-width', 1.6);
    a.selectAll('.tick line').attr('stroke', axisColour).attr('stroke-width', 1.3);
  });

  // all proteins
  g.append('g').selectAll('circle')
    .data(p.zero)
    .join('circle')
    .attr('cx', d => x(d)).attr('cy', y(0))
    .attr('r', p.r)
    .attr('fill', p.fill).attr('stroke', '#000').attr('stroke-width', p.sw);

  g.append('g').selectAll('circle')
    .data(p.points)
    .join('circle')
    .attr('cx', d => x(d[0])).attr('cy', d => y(d[1]))
    .attr('r', p.r)
    .attr('fill', p.fill).attr('stroke', '#000').attr('stroke-width', p.sw);

  // highlighted genes
  g.append('g').selectAll('circle')
    .data(p.genes)
    .join('circle')
    .attr('cx', d => x(d.x)).attr('cy', d => y(d.y))
    .attr('r', 4.3)
    .attr('fill', d => colour[d.kind]);

  let notes = g.append('g');
  p.genes.forEach(d => {
    let l = p.labels[d.name];
    notes.append('line')
      .attr('x1', x(l[2])).attr('y1', y(l[3]))
      .attr('x2', x(l[4])).attr('y2', y(l[5]))
      .attr('stroke', colour[d.kind]).attr('stroke-width', 1.4)
      .attr('marker-end', `url(#arr-${d.kind})`);
    notes.append('text')
      .attr('x', x(l[0])).attr('y', y(l[1]))
      .attr('font-family', titleFont).attr('font-size', 20.5)
      .attr('fill', '#111')
      .text(d.name);
  });

  // panel letter
  g.append('text')
    .attr('x', p.tag[0]).attr('y', p.tag[1])
    .attr('font-family', titleFont).attr('font-size', 21).attr('fill', '#111')
    .text(p.name + ')');

  // x title
  let xt = g.append('text')
    .attr('x', p.xTitle[0]).attr('y', p.xTitle[1])
    .attr('text-anchor', 'middle')
    .attr('font-family', titleFont).attr('font-size', 19).attr('fill', '#111');
  xt.append('tspan').text('log');
  xt.append('tspan').attr('font-size', 12).attr('dy', 5).text('2');
  xt.append('tspan').attr('dy', -5).text('-fold enrichment (');
  xt.append('tspan').attr('font-style', 'italic').text('V campbellii/V harveyi');
  xt.append('tspan').text(')');
  fitWidth(xt, p.xTitle[2]);

  // y title
  let yt = g.append('text')
    .attr('transform', `translate(${p.yTitle[0]},${p.yTitle[1]}) rotate(-90)`)
    .attr('text-anchor', 'middle')
    .attr('font-family', titleFont).attr('font-size', 19).attr('fill', '#111');
  yt.append('tspan').text('-log');
  yt.append('tspan').attr('font-size', 12).attr('dy', 5).text('10');
  yt.append('tspan').attr('dy', -5).text('(p-value)');
  fitWidth(yt, p.yTitle[2]);
}

drawPanel({
  name: 'A',
  points: pointsA, zero: zeroA, genes: genesA, labels: labelsA,
  xTicks: xTicksA, yTicks: yTicksA,
  xDomain: [-7.55, 8.5], yDomain: [-0.49, 7.46],
  left: 78.6, right: 531, top: 26, bottom: 483.3,
  xLabelGap: 31, yLabelGap: 13.5, r: 2.1, fill: '#7a7a7a', sw: 1.15,
  tag: [27, 35], xTitle: [308.3, 542, 452], yTitle: [31, 250, 146]
});

drawPanel({
  name: 'B',
  points: pointsB, zero: zeroB, genes: genesB, labels: labelsB,
  xTicks: xTicksB, yTicks: yTicksB,
  xDomain: [-7.27, 6.69], yDomain: [-0.416, 8.26],
  left: 612.8, right: 1079, top: 24, bottom: 489,
  xLabelGap: 26, yLabelGap: 12.7, r: 2.1, fill: '#3a3a3a', sw: 0.6,
  tag: [558, 33], xTitle: [849, 541, 453], yTitle: [575, 258, 146]
});
</script>
</body>
</html>
